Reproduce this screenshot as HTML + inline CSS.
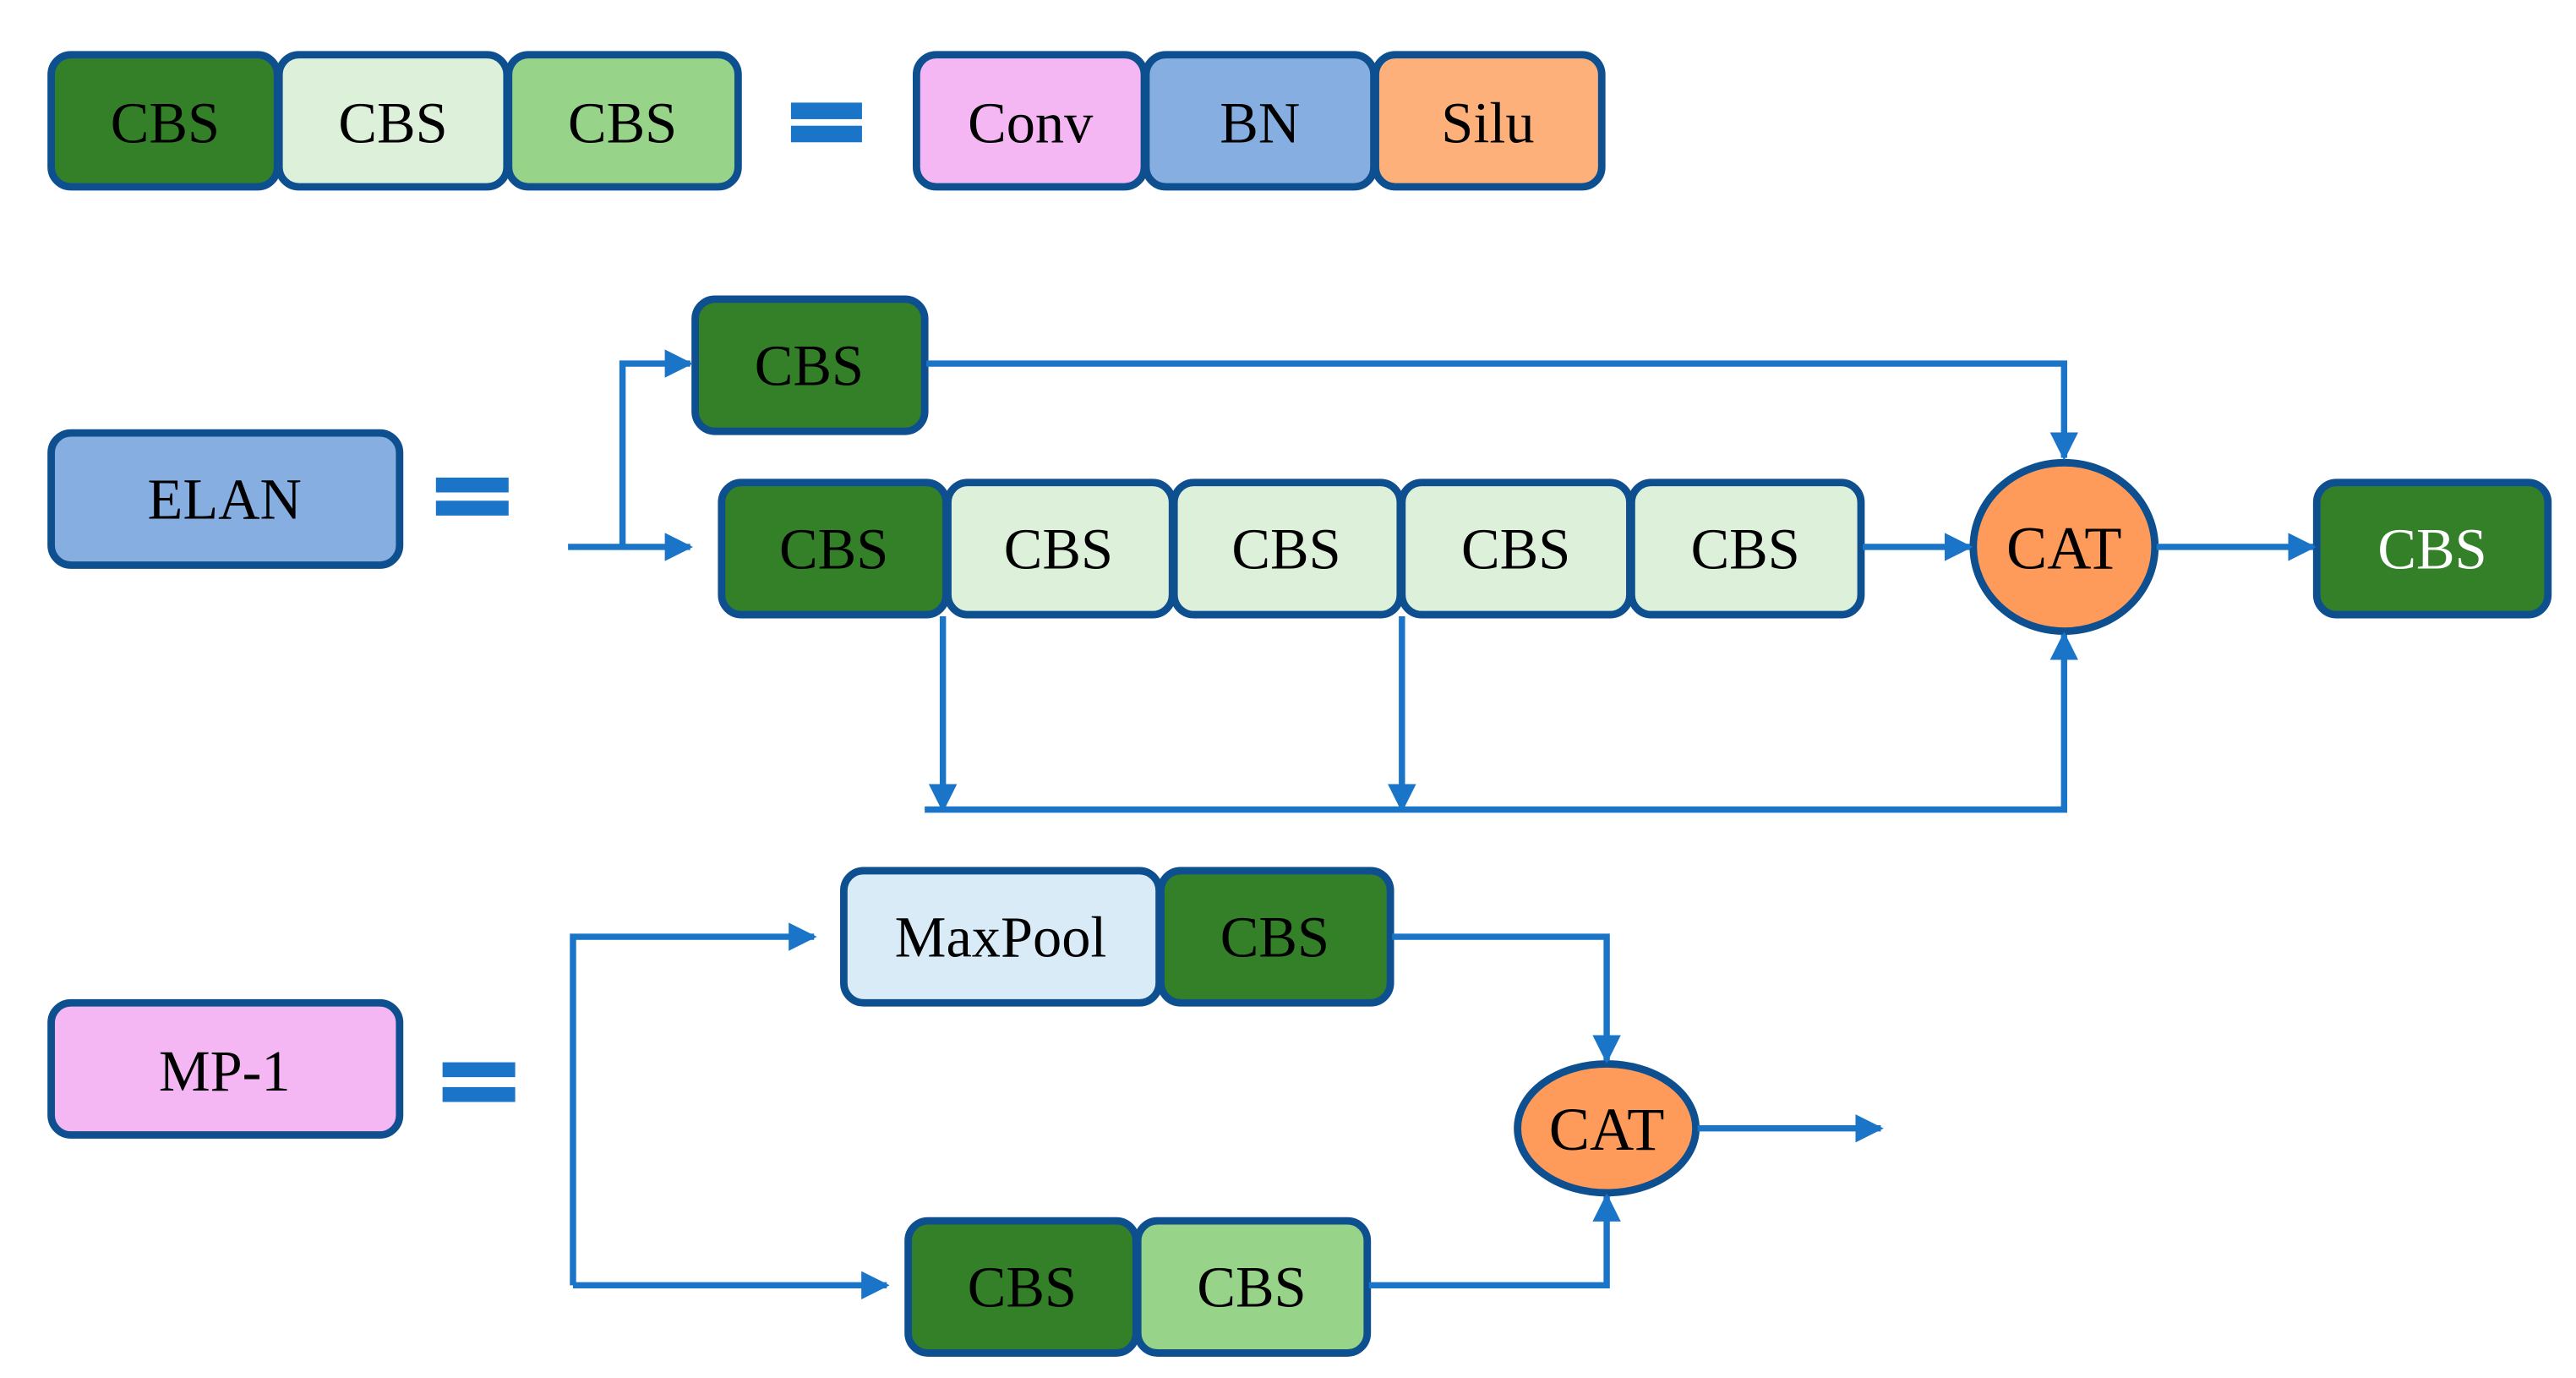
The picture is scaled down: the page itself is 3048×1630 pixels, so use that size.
<!DOCTYPE html>
<html><head><style>html,body{margin:0;padding:0;background:#fff}svg{display:block}</style></head><body>
<svg width="3048" height="1630" viewBox="0 0 1560 834" xmlns="http://www.w3.org/2000/svg" font-family="Liberation Serif, serif" font-size="35" text-anchor="middle">
<defs><marker id="a" viewBox="0 0 10 10" refX="9" refY="5" markerWidth="4.5" markerHeight="4.5" orient="auto" markerUnits="strokeWidth"><path d="M0,0L10,5L0,10z" fill="#1a74c8"/></marker></defs>
<g stroke="#0d4f8f" stroke-width="4.5">
<rect x="31" y="33" width="137" height="80" rx="12" fill="#338029"/>
<rect x="169" y="33" width="138" height="80" rx="12" fill="#ddf0da"/>
<rect x="308" y="33" width="139" height="80" rx="12" fill="#98d38a"/>
<rect x="555" y="33" width="138" height="80" rx="12" fill="#f4b7f4"/>
<rect x="694" y="33" width="138" height="80" rx="12" fill="#86aee0"/>
<rect x="833" y="33" width="137" height="80" rx="12" fill="#fdb07a"/>
<rect x="31" y="262" width="211" height="80" rx="12" fill="#86aee0"/>
<rect x="421" y="181" width="139" height="80" rx="12" fill="#338029"/>
<rect x="437" y="292" width="136" height="80" rx="12" fill="#338029"/>
<rect x="574" y="292" width="136" height="80" rx="12" fill="#ddf0da"/>
<rect x="711" y="292" width="137" height="80" rx="12" fill="#ddf0da"/>
<rect x="849" y="292" width="138" height="80" rx="12" fill="#ddf0da"/>
<rect x="988" y="292" width="139" height="80" rx="12" fill="#ddf0da"/>
<rect x="1403" y="292" width="140" height="80" rx="12" fill="#338029"/>
<ellipse cx="1250" cy="331" rx="55" ry="51" fill="#fe9b5a"/>
<rect x="31" y="607" width="211" height="80" rx="12" fill="#f4b7f4"/>
<rect x="511" y="527" width="191" height="80" rx="12" fill="#d9ebf7"/>
<rect x="703" y="527" width="139" height="80" rx="12" fill="#338029"/>
<rect x="550" y="739" width="138" height="80" rx="12" fill="#338029"/>
<rect x="689" y="739" width="139" height="80" rx="12" fill="#98d38a"/>
<ellipse cx="973" cy="683" rx="54" ry="39" fill="#fe9b5a"/>
</g>
<g fill="#1a74c8">
<rect x="479" y="62" width="43" height="10"/><rect x="479" y="76" width="43" height="10"/>
<rect x="264" y="289" width="44" height="9"/><rect x="264" y="303" width="44" height="9"/>
<rect x="268" y="643" width="44" height="9"/><rect x="268" y="658" width="44" height="9"/>
</g>
<g stroke="#1a74c8" stroke-width="3.8" fill="none">
<path d="M344 331H418" marker-end="url(#a)"/>
<path d="M377 331V220H418" marker-end="url(#a)"/>
<path d="M561 220H1250V277" marker-end="url(#a)"/>
<path d="M1128 331H1193" marker-end="url(#a)"/>
<path d="M1306 331H1401" marker-end="url(#a)"/>
<path d="M571 373V490" marker-end="url(#a)"/>
<path d="M849 373V490" marker-end="url(#a)"/>
<path d="M560 490H1250V384" marker-end="url(#a)"/>
<path d="M347 778V567H493" marker-end="url(#a)"/>
<path d="M347 778H537" marker-end="url(#a)"/>
<path d="M843 567H973V642" marker-end="url(#a)"/>
<path d="M829 778H973V724" marker-end="url(#a)"/>
<path d="M1028 683H1139" marker-end="url(#a)"/>
</g>
<g fill="#000">
<text x="100" y="86">CBS</text><text x="238" y="86">CBS</text><text x="377" y="86">CBS</text>
<text x="624" y="86">Conv</text><text x="763" y="86">BN</text><text x="901" y="86">Silu</text>
<text x="136" y="314">ELAN</text>
<text x="490" y="233">CBS</text>
<text x="505" y="344">CBS</text><text x="641" y="344">CBS</text><text x="779" y="344">CBS</text><text x="918" y="344">CBS</text><text x="1057" y="344">CBS</text>
<text x="1250" y="344" font-size="37">CAT</text>
<text x="1473" y="344" fill="#fff">CBS</text>
<text x="136" y="660">MP-1</text>
<text x="606" y="579">MaxPool</text><text x="772" y="579">CBS</text>
<text x="973" y="696" font-size="37">CAT</text>
<text x="619" y="791">CBS</text><text x="758" y="791">CBS</text>
</g>
</svg>
</body></html>
